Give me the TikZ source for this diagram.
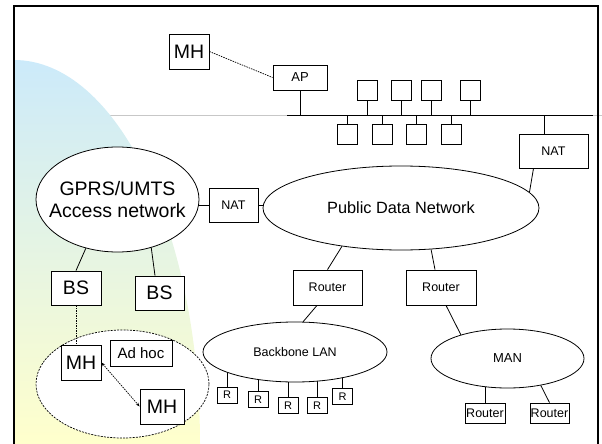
\documentclass[tikz,border=0pt]{standalone}
\usepackage{fontspec}
\setmainfont{Liberation Sans}
\usetikzlibrary{shapes.geometric,arrows.meta}
\pgfdeclarelayer{back}\pgfdeclarelayer{mid}
\pgfsetlayers{back,mid,main}
\newcommand\fsz[1]{\fontsize{#1}{#1}\selectfont}
\definecolor{skyb}{RGB}{204,234,250}
\definecolor{paley}{RGB}{255,255,204}
\begin{document}
\begin{tikzpicture}[x=1pt,y=-1pt,
 box/.style={draw,fill=white,inner sep=0pt,line width=0.8pt},
 sq/.style={box,minimum width=20pt,minimum height=20pt},
 rbox/.style={box,minimum width=20pt,minimum height=16pt,font=\fsz{11}},
 oval/.style={ellipse,draw,fill=white,inner sep=0pt,line width=0.8pt},
 conn/.style={line width=0.8pt},
 dot/.style={line width=0.7pt,dash pattern=on 1.5pt off 1pt},
 big/.style={font=\fsz{19.5}},
 mid/.style={font=\fsz{12.5}},
]
\useasboundingbox (0,0) rectangle (602,444);

% background
\begin{pgfonlayer}{back}
\draw[black!22,line width=0.8pt] (14,115) -- (602,115);
\shade[top color=skyb,bottom color=paley] (14,444) -- (14,60) arc[start angle=90,end angle=0,x radius=186pt,y radius=384pt] -- cycle;
\end{pgfonlayer}

% top LAN
\node[box,big,minimum width=40pt,minimum height=35pt] (mh0) at (189,51.5) {MH};
\node[box,font=\fsz{13},minimum width=54pt,minimum height=25pt] (ap) at (300,77.5) {AP};
\coordinate (busL) at (287,115);
\coordinate (busR) at (593,115);
\node[sq] (u1) at (367,90) {};
\node[sq] (u2) at (401,90) {};
\node[sq] (u3) at (431,90) {};
\node[sq] (u4) at (470,90) {};
\node[sq] (l1) at (347,134) {};
\node[sq] (l2) at (382,134) {};
\node[sq] (l3) at (416,134) {};
\node[sq] (l4) at (451,134) {};
\node[box,mid,minimum width=69pt,minimum height=34pt] (nat2) at (553.5,151) {NAT};
\coordinate (n2s) at (544,134);

% middle
\node[oval,big,minimum width=163pt,minimum height=105pt,align=center,font=\fontsize{19.5}{22}\selectfont] (gprs) at (117.5,199.5) {\makebox[0pt]{GPRS/UMTS}\\\makebox[0pt]{Access network}};
\node[box,mid,minimum width=49pt,minimum height=34pt] (nat1) at (233.5,205) {NAT};
\node[oval,font=\fsz{16.3},minimum width=276pt,minimum height=84pt] (pdn) at (401,208) {Public Data Network};
\node[box,mid,minimum width=69pt,minimum height=35pt] (r1) at (327.5,287.5) {Router};
\node[box,mid,minimum width=70pt,minimum height=35pt] (r2) at (441,287.5) {Router};

% backbone
\node[oval,mid,minimum width=184pt,minimum height=60pt] (bb) at (295,352) {Backbone LAN};
\node[rbox] (rr1) at (227,395) {R};
\node[rbox] (rr2) at (258,399.5) {R};
\node[rbox] (rr3) at (288,405.5) {R};
\node[rbox] (rr4) at (317,405.5) {R};
\node[rbox] (rr5) at (342.5,396.5) {R};

% MAN
\node[oval,font=\fsz{13},minimum width=153pt,minimum height=59pt] (man) at (507.5,358.5) {MAN};
\node[box,mid,minimum width=40pt,minimum height=20pt] (ra) at (485,413) {Router};
\node[box,mid,minimum width=39pt,minimum height=20pt] (rb) at (549.5,413) {Router};

% GPRS side
\node[box,big,minimum width=50pt,minimum height=34pt] (bs1) at (76,288) {BS};
\node[box,big,minimum width=49pt,minimum height=34pt] (bs2) at (159.5,293) {BS};
\node[ellipse,draw,fill=white,inner sep=0pt,line width=0.7pt,dash pattern=on 2pt off 1.2pt,minimum width=173pt,minimum height=108pt] (adhoc) at (122.5,384) {};
\node[box,big,minimum width=40pt,minimum height=35pt] (mh1) at (81,362.5) {MH};
\node[box,font=\fsz{15},minimum width=62pt,minimum height=26pt] (ah) at (141,353) {Ad hoc};
\node[box,big,minimum width=44pt,minimum height=35pt] (mh2) at (162,406.5) {MH};

% connectors
\draw[dot] (mh0.east) -- (ap.west);
\draw[conn] (busL) -- (busR);
\draw[conn] (ap.south) -- (ap.south |- busL);
\foreach \n in {u1,u2,u3,u4} \draw[conn] (\n.south) -- (\n.south |- busL);
\foreach \n in {l1,l2,l3,l4} \draw[conn] (\n.north) -- (\n.north |- busL);
\draw[conn] (n2s) -- (n2s |- busL);
\draw[conn] (gprs.east |- nat1.west) -- (nat1.west);
\draw[conn] (nat1.east) -- (nat1.east -| pdn.west);
\draw[conn] ([xshift=-20pt]nat2.south) -- (pdn.7);
\draw[conn] (pdn.213) -- (r1.north);
\draw[conn] (pdn.306) -- ([xshift=-6pt]r2.north);
\draw[conn] ([xshift=-10.5pt]r1.south) -- (bb.75);
\draw[conn] ([xshift=5pt]r2.south) -- (man.153);
\draw[conn] (man.-39) -- (rb.north);
\begin{pgfonlayer}{mid}
\draw[conn] (ra.north) -- (ra.north |- man.center);
\foreach \n in {rr1,rr2,rr3,rr4,rr5} \draw[conn] (\n.north) -- (\n.north |- bb.center);
\end{pgfonlayer}
\draw[conn] (gprs.237) -- (bs1.north);
\draw[conn] (gprs.305) -- ([xshift=-4.5pt]bs2.north);
\draw[dot] (bs1.south) -- (bs1.south |- mh1.north);
\draw[dot,{Stealth[length=4pt,width=3pt]}-{Stealth[length=4pt,width=3pt]}] (mh1.east) -- (mh2.west);

% frame
\draw[line width=2pt,line join=miter] (14,444) -- (14,6) -- (598,6) -- (598,444);
\end{tikzpicture}
\end{document}
